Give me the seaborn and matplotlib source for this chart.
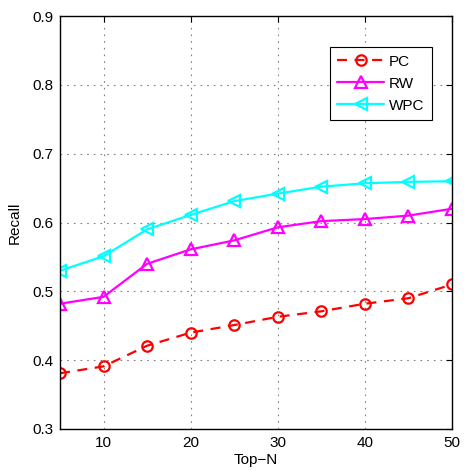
import matplotlib
matplotlib.use("Agg")
import matplotlib.pyplot as plt
import seaborn as sns
import pandas as pd

# Recall at each Top-N cutoff for the three methods
top_n = [5, 10, 15, 20, 25, 30, 35, 40, 45, 50]
recall_pc = [0.381, 0.391, 0.421, 0.440, 0.451, 0.463, 0.471, 0.482, 0.490, 0.510]
recall_rw = [0.482, 0.492, 0.540, 0.561, 0.574, 0.593, 0.602, 0.605, 0.610, 0.620]
recall_wpc = [0.530, 0.551, 0.590, 0.611, 0.631, 0.642, 0.652, 0.657, 0.659, 0.660]

x_ticks = [10, 20, 30, 40, 50]
y_ticks = [0.3, 0.4, 0.5, 0.6, 0.7, 0.8, 0.9]

sns.set_style("white")
plt.rcParams["font.family"] = ["Liberation Sans", "DejaVu Sans"]
plt.rcParams["xtick.direction"] = "in"
plt.rcParams["ytick.direction"] = "in"
plt.rcParams["text.color"] = "black"
plt.rcParams["axes.labelcolor"] = "black"

fig = plt.figure(figsize=(4.66, 4.70), dpi=100)
ax = fig.add_axes([60 / 466, 41 / 470, 392 / 466, 413 / 470])

series = [
    ("PC", recall_pc, "#ff0000", "o", (0, (4.5, 3.4)), 7.5),
    ("RW", recall_rw, "#ff00ff", "^", "-", 9),
    ("WPC", recall_wpc, "#00ffff", "<", "-", 9),
]

for name, vals, color, marker, ls, ms in series:
    df = pd.DataFrame({"Top-N": top_n, "Recall": vals})
    sns.lineplot(
        data=df, x="Top-N", y="Recall", ax=ax, color=color,
        marker=marker, markersize=ms, markerfacecolor="none",
        markeredgecolor=color, markeredgewidth=1.6,
        linewidth=1.6, linestyle=ls, label=name,
    )

ax.set_xlim(5, 50)
ax.set_ylim(0.3, 0.9)
ax.set_xticks(x_ticks)
ax.set_yticks(y_ticks)
ax.set_yticklabels([f"{v:.1f}" for v in y_ticks])
ax.tick_params(axis="both", which="major", labelsize=11, length=4, width=0.8,
               top=True, right=True, colors="black")
ax.tick_params(axis="x", pad=5)
ax.tick_params(axis="y", pad=4.5)

ax.grid(True, linestyle=(0, (1.5, 4.5)), color="#808080", linewidth=0.8)
for sp in ax.spines.values():
    sp.set_color("black")
    sp.set_linewidth(1.0)

ax.set_xlabel("Top\u2212N", fontsize=11, labelpad=2)
ax.set_ylabel("Recall", fontsize=11, labelpad=8)

leg = ax.legend(loc="upper right", bbox_to_anchor=(0.949, 0.925),
                borderaxespad=0, fontsize=11, frameon=True, fancybox=False,
                framealpha=1, edgecolor="black", handlelength=3.05,
                handletextpad=0.33, borderpad=0.5, labelspacing=0.53,
                numpoints=1)
leg.get_frame().set_linewidth(0.8)

fig.savefig("out.png", dpi=100)
